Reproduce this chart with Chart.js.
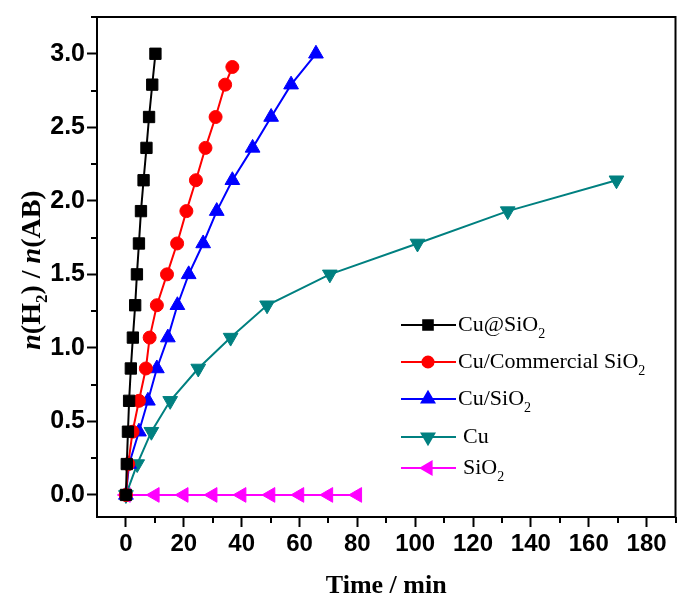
<!DOCTYPE html>
<html>
<head>
<meta charset="utf-8">
<script src="https://cdn.jsdelivr.net/npm/chart.js@4.4.1/dist/chart.umd.min.js"></script>
<style>
html, body { margin: 0; padding: 0; background: #fff; }
</style>
</head>
<body>
<canvas id="chart" width="685" height="607"></canvas>
<script>
// series names (₂ is drawn as a subscript)
var seriesNames = ['Cu@SiO₂', 'Cu/Commercial SiO₂', 'Cu/SiO₂', 'Cu', 'SiO₂'];

// shared ratio steps n(H2)/n(AB)
var ratioSteps = [0, 0.21, 0.43, 0.64, 0.86, 1.07, 1.29, 1.50, 1.71, 1.93, 2.14, 2.36, 2.57, 2.79, 3.00];

var cuAtSio2Time = [0, 0.3, 0.7, 1.1, 1.7, 2.4, 3.2, 3.8, 4.5, 5.2, 6.1, 7.1, 8.0, 9.1, 10.2];
var cuAtSio2Ratio = ratioSteps;

var cuCommTime = [0, 0.8, 2.3, 4.5, 6.9, 8.2, 10.7, 14.2, 17.7, 20.9, 24.2, 27.5, 31.0, 34.3, 36.8];
var cuCommRatio = [0, 0.21, 0.43, 0.64, 0.86, 1.07, 1.29, 1.50, 1.71, 1.93, 2.14, 2.36, 2.57, 2.79, 2.91];

var cuSio2Time = [0, 1.1, 4.5, 7.6, 10.7, 14.5, 17.8, 21.7, 26.7, 31.4, 36.8, 43.8, 50.2, 57.1, 65.7];
var cuSio2Ratio = ratioSteps;

var cuTime = [0, 3.9, 8.8, 15.3, 25.0, 36.2, 48.8, 70.5, 100.8, 132.0, 169.6];
var cuRatio = [0, 0.21, 0.43, 0.64, 0.86, 1.07, 1.29, 1.50, 1.71, 1.93, 2.14];

var sio2Time = [0, 10, 20, 30, 40, 50, 60, 70, 80];
var sio2Ratio = [0, 0, 0, 0, 0, 0, 0, 0, 0];

var xTicks = [0, 20, 40, 60, 80, 100, 120, 140, 160, 180];
var yTicks = [0, 0.5, 1.0, 1.5, 2.0, 2.5, 3.0];

function toPoints(xs, ys) {
    var pts = [];
    for (var i = 0; i < xs.length; i++) {
        pts.push({x: xs[i], y: ys[i]});
    }
    return pts;
}

function makeSet(label, xs, ys, color, style, radius, rotation) {
    return {
        label: label,
        data: toPoints(xs, ys),
        borderColor: color,
        backgroundColor: color,
        borderWidth: 2,
        pointStyle: style,
        pointRadius: radius,
        pointRotation: rotation,
        pointBorderWidth: 1,
        pointBorderColor: color,
        pointBackgroundColor: color,
        tension: 0
    };
}

// text pieces: ₂ becomes a lowered small 2
function richWidth(ctx, parts) {
    var w = 0;
    parts.forEach(function (p) {
        ctx.font = p.font;
        w += ctx.measureText(p.t).width;
    });
    return w;
}

function drawParts(ctx, parts, x, y) {
    parts.forEach(function (p) {
        ctx.font = p.font;
        ctx.fillText(p.t, x, y + (p.dy || 0));
        x += ctx.measureText(p.t).width;
    });
}

function labelParts(text, size) {
    var parts = [];
    var chunks = text.split('₂');
    chunks.forEach(function (c, i) {
        if (c) parts.push({t: c, font: size + 'px "Liberation Serif"'});
        if (i < chunks.length - 1) {
            parts.push({t: '2', font: Math.round(size * 0.62) + 'px "Liberation Serif"', dy: 9});
        }
    });
    return parts;
}

var legendRows = [325, 362, 399, 437, 468];
var legendTextX = [458, 458, 458, 463, 463];

var decorPlugin = {
    id: 'decor',
    afterDraw: function (chart) {
        var ctx = chart.ctx;
        var a = chart.chartArea;
        var xs = chart.scales.x;
        var ys = chart.scales.y;
        ctx.save();
        ctx.strokeStyle = '#000';
        ctx.fillStyle = '#000';

        // frame
        ctx.lineWidth = 2;
        ctx.strokeRect(a.left, a.top, a.right - a.left, a.bottom - a.top);

        // minor ticks
        ctx.beginPath();
        for (var v = 10; v <= 190; v += 20) {
            var px = Math.round(xs.getPixelForValue(v));
            ctx.moveTo(px, a.bottom);
            ctx.lineTo(px, a.bottom + 6);
        }
        for (var w = 0.25; w <= 3.25; w += 0.5) {
            var py = Math.round(ys.getPixelForValue(w));
            ctx.moveTo(a.left, py);
            ctx.lineTo(a.left - 6, py);
        }
        ctx.stroke();

        // x title
        ctx.textBaseline = 'middle';
        ctx.textAlign = 'center';
        ctx.font = 'bold 26px "Liberation Serif"';
        ctx.fillText('Time / min', (a.left + a.right) / 2, 586);

        // y title
        ctx.textAlign = 'left';
        var bold = 'bold 28px "Liberation Serif"';
        var ital = 'italic bold 28px "Liberation Serif"';
        var yParts = [
            {t: 'n', font: ital},
            {t: '(H', font: bold},
            {t: '2', font: 'bold 17px "Liberation Serif"', dy: 10},
            {t: ') / ', font: bold},
            {t: 'n', font: ital},
            {t: '(AB)', font: bold}
        ];
        ctx.save();
        ctx.translate(33, (a.top + a.bottom) / 2 + 3);
        ctx.rotate(-Math.PI / 2);
        drawParts(ctx, yParts, -richWidth(ctx, yParts) / 2, 0);
        ctx.restore();

        // legend
        chart.data.datasets.forEach(function (ds, i) {
            var ly = legendRows[i];
            ctx.strokeStyle = ds.borderColor;
            ctx.fillStyle = ds.borderColor;
            ctx.lineWidth = 2;
            ctx.beginPath();
            ctx.moveTo(401, ly);
            ctx.lineTo(456, ly);
            ctx.stroke();
            Chart.helpers.drawPoint(ctx, {
                pointStyle: ds.pointStyle,
                rotation: ds.pointRotation,
                radius: ds.pointRadius * 0.85,
                borderWidth: 1
            }, 428, ly);
            ctx.fillStyle = '#000';
            ctx.textBaseline = 'middle';
            drawParts(ctx, labelParts(ds.label, 22), legendTextX[i], ly);
        });
        ctx.restore();
    }
};

var tickFont = {family: '"Liberation Sans", Arial, sans-serif', size: 24, weight: 'bold'};

new Chart(document.getElementById('chart'), {
    type: 'line',
    data: {
        datasets: [
            makeSet(seriesNames[0], cuAtSio2Time, cuAtSio2Ratio, '#000000', 'rect', 8, 0),
            makeSet(seriesNames[1], cuCommTime, cuCommRatio, '#ff0000', 'circle', 6.5, 0),
            makeSet(seriesNames[2], cuSio2Time, cuSio2Ratio, '#0000ff', 'triangle', 8.5, 0),
            makeSet(seriesNames[3], cuTime, cuRatio, '#008080', 'triangle', 8.5, 180),
            makeSet(seriesNames[4], sio2Time, sio2Ratio, '#ff00ff', 'triangle', 8.5, 270)
        ]
    },
    options: {
        responsive: false,
        animation: false,
        devicePixelRatio: 1,
        layout: {padding: {top: 5, right: 6, left: 0, bottom: 0}},
        plugins: {
            legend: {display: false},
            tooltip: {enabled: false}
        },
        scales: {
            x: {
                type: 'linear',
                min: -10,
                max: 190,
                afterBuildTicks: function (s) {
                    s.ticks = xTicks.map(function (v) { return {value: v}; });
                },
                afterFit: function (s) { s.height = 90; },
                ticks: {
                    color: '#000',
                    font: tickFont,
                    padding: 3,
                    maxRotation: 0,
                    autoSkip: false
                },
                grid: {
                    drawOnChartArea: false,
                    tickLength: 10,
                    tickWidth: 2,
                    tickColor: '#000'
                },
                border: {display: false}
            },
            y: {
                min: -0.15,
                max: 3.25,
                afterBuildTicks: function (s) {
                    s.ticks = yTicks.map(function (v) { return {value: v}; });
                },
                afterFit: function (s) { s.width = 97; },
                ticks: {
                    color: '#000',
                    font: {family: '"Liberation Sans", Arial, sans-serif', size: 25, weight: 'bold'},
                    padding: 2,
                    autoSkip: false,
                    callback: function (v) { return Number(v).toFixed(1); }
                },
                grid: {
                    drawOnChartArea: false,
                    tickLength: 10,
                    tickWidth: 2,
                    tickColor: '#000'
                },
                border: {display: false}
            }
        }
    },
    plugins: [decorPlugin]
});
</script>
</body>
</html>
